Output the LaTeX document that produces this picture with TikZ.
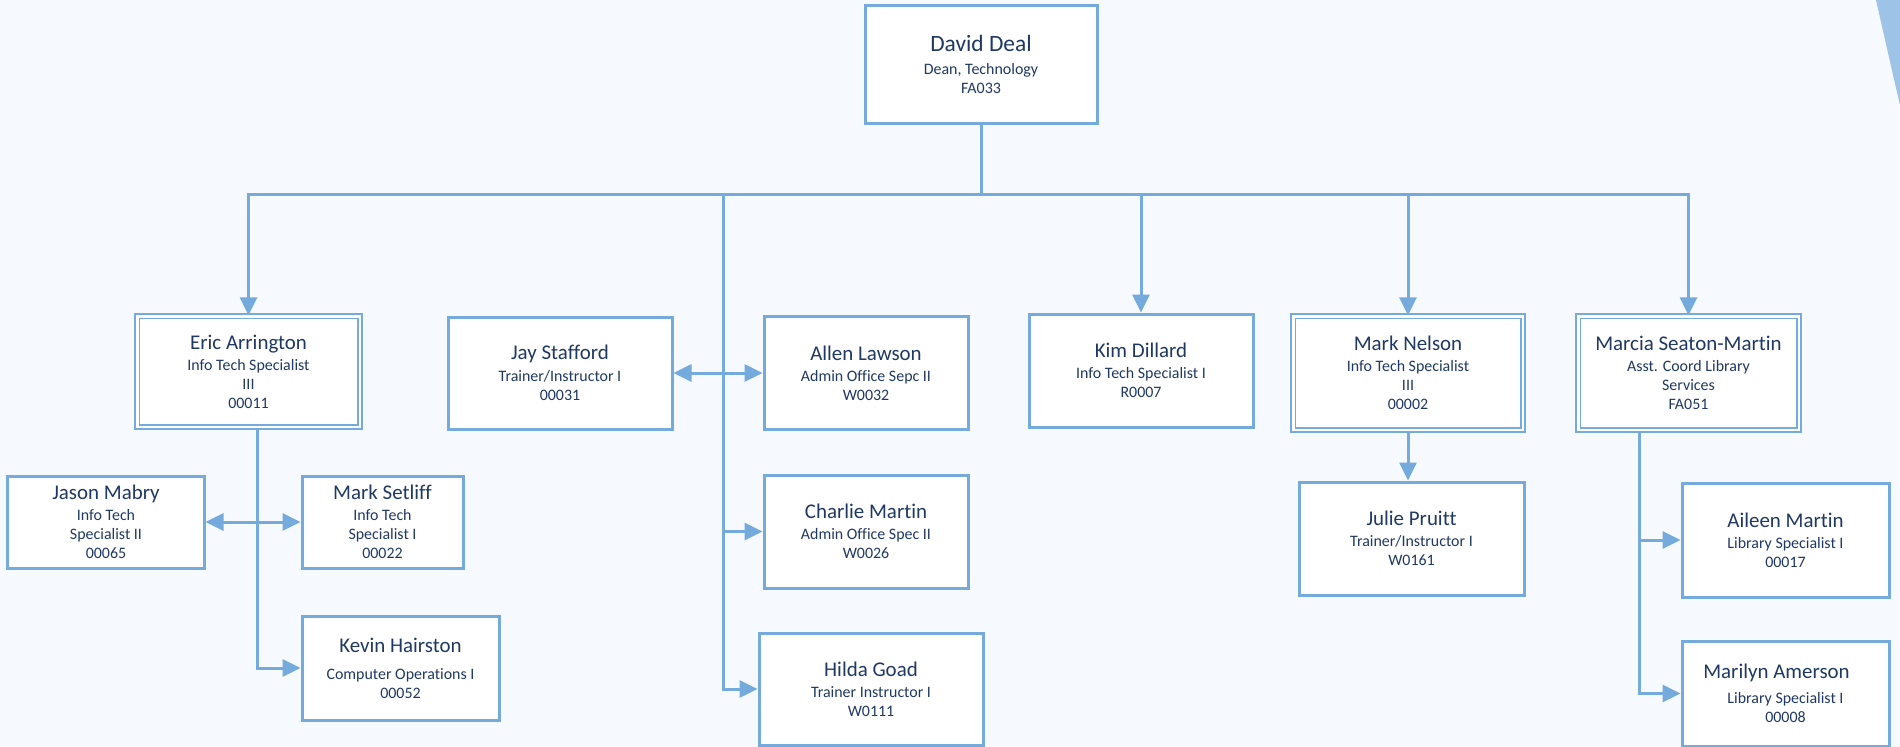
\documentclass[tikz,border=0pt]{standalone}
\usepackage{fontspec}
\setmainfont{Carlito}[Ligatures=NoCommon]
\usetikzlibrary{arrows.meta}
\definecolor{bg}{HTML}{F6F9FD}
\definecolor{bl}{HTML}{74AADC}
\definecolor{navy}{HTML}{1F3864}
\definecolor{deco}{HTML}{9DC3E6}
\newcommand{\nmf}{\fontsize{21}{25}\selectfont}
\newcommand{\bigf}{\fontsize{23.5}{27}\selectfont}
\newcommand{\subf}{\fontsize{16}{19}\selectfont}
\begin{document}
\begin{tikzpicture}[x=1bp,y=-1bp,
  box/.style={draw=bl, line width=3bp, fill=white, text=navy, font=\subf, align=center, inner sep=0pt},
  dbox/.style={draw=bl, line width=1.8bp, double=white, double distance=2.5bp, fill=white, text=navy, font=\subf, align=center, inner sep=0pt},
  conn/.style={draw=bl, line width=3bp},
  arr/.style={-{Triangle[length=18bp,width=17bp]}},
  darr/.style={{Triangle[length=18bp,width=17bp]}-{Triangle[length=18bp,width=17bp]}}
]
\useasboundingbox (0,0) rectangle (1900,747);
\fill[bg] (0,0) rectangle (1900,747);
\fill[deco] (1876,0) .. controls (1885,40) and (1893,75) .. (1900,105) -- (1900,0) -- cycle;

% nodes
\node[box, minimum width=232bp, minimum height=117bp] (dd) at (981,64.5)
  {{\bigf David Deal}\\[4bp] Dean, Technology\\ FA033};
\node[dbox, minimum width=222.5bp, minimum height=110.5bp] (eric) at (248.5,371.5)
  {{\nmf Eric Arrington}\\[2bp] Info Tech Specialist\\ III\\ 00011};
\node[box, minimum width=224bp, minimum height=112bp] (jay) at (560,373)
  {{\nmf Jay Stafford}\\[3bp] Trainer/Instructor I\\ 00031};
\node[box, minimum width=204bp, minimum height=113bp] (allen) at (866,373)
  {{\nmf Allen Lawson}\\[2bp] Admin Office Sepc II\\ W0032};
\node[box, minimum width=204bp, minimum height=113bp] (charlie) at (866,531.5)
  {{\nmf Charlie Martin}\\[2bp] Admin Office Spec II\\ W0026};
\node[box, minimum width=224bp, minimum height=112bp] (hilda) at (871,689)
  {{\nmf Hilda Goad}\\[2bp] Trainer Instructor I\\ W0111};
\node[box, minimum width=224bp, minimum height=113bp] (kim) at (1141,370.5)
  {{\nmf Kim Dillard}\\[2bp] Info Tech Specialist I\\ R0007};
\node[dbox, minimum width=229.5bp, minimum height=113.5bp] (nelson) at (1408,373)
  {{\nmf Mark Nelson}\\[2bp] Info Tech Specialist\\ III\\ 00002};
\node[box, minimum width=225bp, minimum height=113bp] (julie) at (1411.5,538.5)
  {{\nmf Julie Pruitt}\\[2bp] Trainer/Instructor I\\ W0161};
\node[dbox, minimum width=220.5bp, minimum height=113.5bp] (marcia) at (1688.5,373)
  {{\nmf Marcia Seaton-Martin}\\[2bp] Asst. Coord Library\\ Services\\ FA051};
\node[box, minimum width=207bp, minimum height=114bp] (aileen) at (1785.5,540)
  {{\nmf Aileen Martin}\\[2bp] Library Specialist I\\ 00017};
\node[box, minimum width=207bp, minimum height=105bp] (marilyn) at (1785.5,693.5)
  {{\nmf Marilyn Amerson\hspace*{18bp}}\\[6bp] Library Specialist I\\ 00008};
\node[box, minimum width=196bp, minimum height=92bp] (jason) at (106,522)
  {{\nmf Jason Mabry}\\[2bp] Info Tech\\ Specialist II\\ 00065};
\node[box, minimum width=161bp, minimum height=92bp] (setliff) at (382.5,522)
  {{\nmf Mark Setliff}\\[2bp] Info Tech\\ Specialist I\\ 00022};
\node[box, minimum width=197bp, minimum height=104bp] (kevin) at (400.5,668)
  {{\nmf Kevin Hairston}\\[8bp] Computer Operations I\\ 00052};

% connector coordinates
\coordinate (bus) at (981,194);
\coordinate (tr) at (723,194);
\coordinate (et) at ([xshift=8.5bp]eric.south);
\coordinate (mt) at ([xshift=-49.5bp]marcia.south);

% connectors
\draw[conn] (dd.south) -- (bus);
\draw[conn, arr] (bus) -| (eric.north);
\draw[conn, arr] (bus) -| (kim.north);
\draw[conn, arr] (bus) -| (nelson.north);
\draw[conn, arr] (bus) -| (marcia.north);
\draw[conn] (bus) -- (tr);
\draw[conn, arr] (tr) |- (charlie.west);
\draw[conn, arr] (tr) |- (hilda.west);
\draw[conn, darr] (jay.east) -- (allen.west);
\draw[conn, arr] (et) |- (kevin.west);
\draw[conn, darr] (jason.east) -- (setliff.west);
\draw[conn, arr] (nelson.south) -- (nelson.south |- julie.north);
\draw[conn, arr] (mt) |- (aileen.west);
\draw[conn, arr] (mt) |- (marilyn.west);
\end{tikzpicture}
\end{document}
